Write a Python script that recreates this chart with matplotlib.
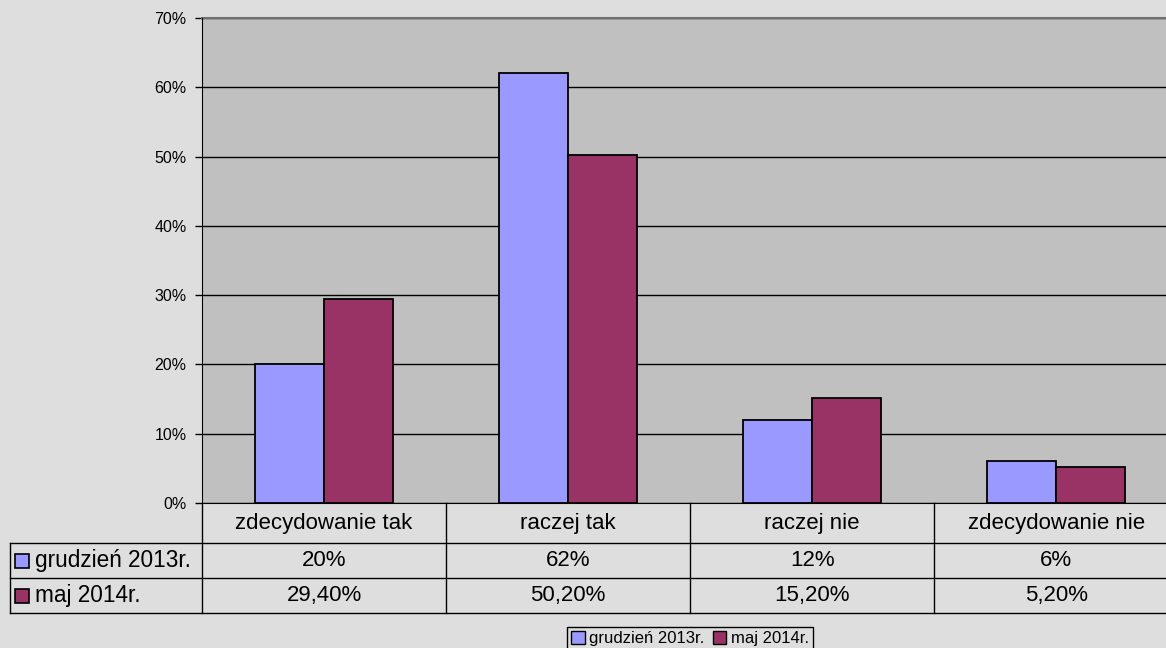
import numpy as np
import matplotlib
matplotlib.use("Agg")
import matplotlib.pyplot as plt
import matplotlib.transforms as mtransforms
from matplotlib.patches import Patch
from matplotlib.lines import Line2D

plt.rcParams['font.family'] = ['Liberation Sans', 'DejaVu Sans']

# data
categories = ['zdecydowanie tak', 'raczej tak', 'raczej nie', 'zdecydowanie nie']
series_names = ['grudzień 2013r.', 'maj 2014r.']
grudzien = [20, 62, 12, 6]
maj = [29.4, 50.2, 15.2, 5.2]
grudzien_labels = ['20%', '62%', '12%', '6%']
maj_labels = ['29,40%', '50,20%', '15,20%', '5,20%']
yticks = [0, 10, 20, 30, 40, 50, 60, 70]

colors = ['#9999ff', '#993366']
W, H = 1166, 648


def fx(px):
    return px / W


def fy(py):
    return 1 - py / H


fig = plt.figure(figsize=(W / 100, H / 100), dpi=100, facecolor='#dedede')
ax = fig.add_axes([fx(202), fy(503), 1 - fx(202), (503 - 18) / H])
ax.set_facecolor('#c0c0c0')

x = np.arange(len(categories))
w = 0.283
ax.bar(x - w / 2, grudzien, w, color=colors[0], edgecolor='black', linewidth=1.3, zorder=3)
ax.bar(x + w / 2, maj, w, color=colors[1], edgecolor='black', linewidth=1.3, zorder=3)

ax.set_xlim(-0.5, 3.45)
ax.set_ylim(0, 70)
ax.set_yticks(yticks)
ax.set_yticklabels([f'{t}%' for t in yticks])
ax.set_xticks([])
ax.tick_params(axis='y', length=5, width=1, pad=6, labelsize=11.5, colors='black')
ax.yaxis.grid(True, color='black', linewidth=1)
ax.set_axisbelow(True)
for s in ['top', 'right']:
    ax.spines[s].set_visible(False)
ax.spines['left'].set_color('black')
ax.spines['bottom'].set_color('black')
ax.axhline(70, color='#707070', linewidth=1.5, zorder=2, clip_on=False)

# data table below the axis
trans = mtransforms.blended_transform_factory(ax.transData, fig.transFigure)
row_y = [503, 543, 578, 613]
for b in np.arange(-0.5, len(categories), 1.0):
    fig.add_artist(Line2D([b, b], [fy(row_y[0]), fy(row_y[-1])], transform=trans,
                          color='black', linewidth=1))
for ry in row_y[1:]:
    fig.add_artist(Line2D([fx(10), 1], [fy(ry), fy(ry)], transform=fig.transFigure,
                          color='black', linewidth=1))
fig.add_artist(Line2D([fx(10), fx(10)], [fy(row_y[1]), fy(row_y[-1])],
                      transform=fig.transFigure, color='black', linewidth=1))

for i, cat in enumerate(categories):
    fig.text(x[i], fy((row_y[0] + row_y[1]) / 2), cat, transform=trans,
             ha='center', va='center', fontsize=16)
    fig.text(x[i], fy((row_y[1] + row_y[2]) / 2), grudzien_labels[i], transform=trans,
             ha='center', va='center', fontsize=16)
    fig.text(x[i], fy((row_y[2] + row_y[3]) / 2), maj_labels[i], transform=trans,
             ha='center', va='center', fontsize=16)

for k, name in enumerate(series_names):
    yc = fy((row_y[k + 1] + row_y[k + 2]) / 2)
    fig.add_artist(Line2D([fx(22)], [yc], transform=fig.transFigure, marker='s',
                          markersize=10, markerfacecolor=colors[k],
                          markeredgecolor='black', markeredgewidth=1.2))
    fig.text(fx(35), yc, name, ha='left', va='center', fontsize=16.3)

# legend
handles = [Patch(facecolor=colors[k], edgecolor='black', label=series_names[k])
           for k in range(2)]
fig.legend(handles=handles, loc='upper left', bbox_to_anchor=(fx(567), fy(627)),
           ncol=2, fontsize=12, frameon=True, fancybox=False, edgecolor='black',
           facecolor='#dedede', framealpha=1, handlelength=0.8, handleheight=0.8,
           handletextpad=0.25, columnspacing=0.55, borderpad=0.25, borderaxespad=0)

fig.savefig('out.png', dpi=100, facecolor=fig.get_facecolor())
